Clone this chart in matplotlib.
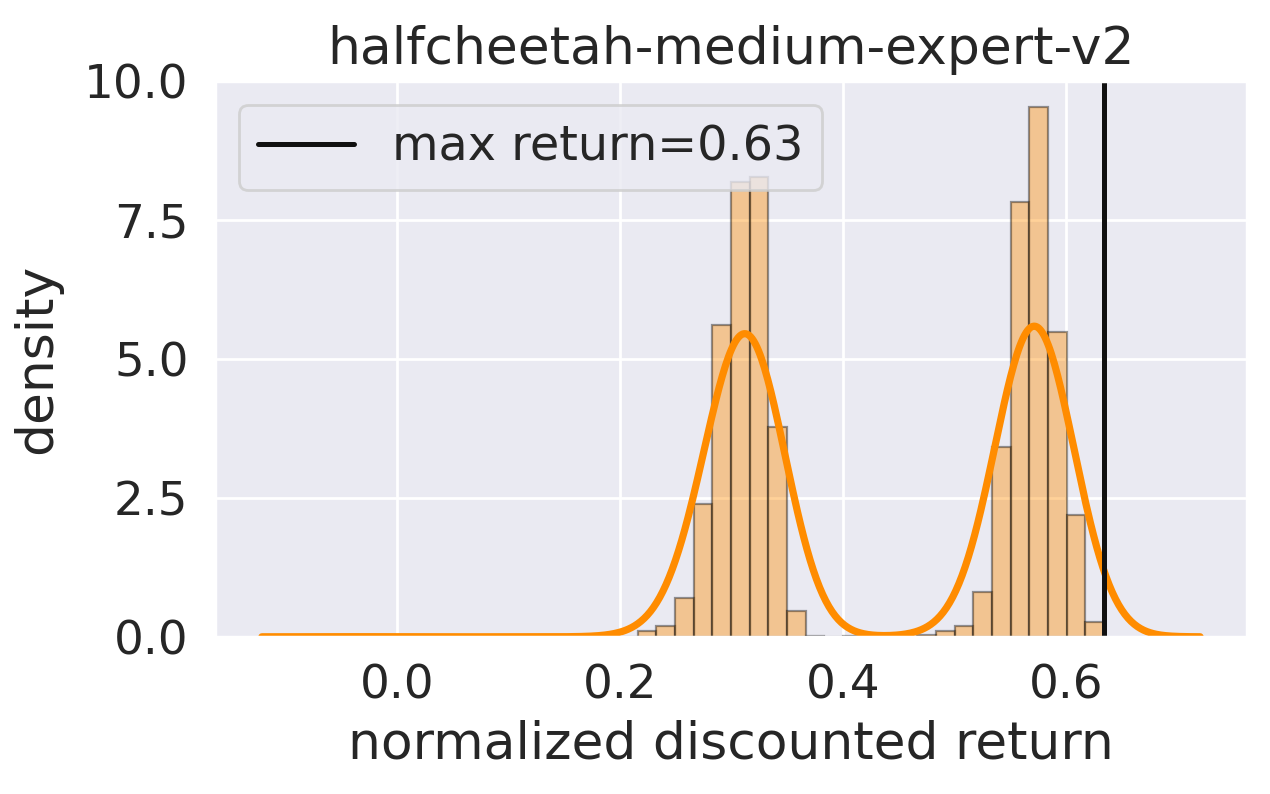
import numpy as np
import matplotlib
matplotlib.use("Agg")
import matplotlib.pyplot as plt
import seaborn as sns

# ---- data ----
title = "halfcheetah-medium-expert-v2"
x_label = "normalized discounted return"
y_label = "density"
max_return = 0.634
data_min = -0.035
n_bins = 40
# density of each histogram bin (40 equal bins from data_min to max_return)
bin_density = [
    0.01, 0, 0, 0, 0, 0, 0, 0, 0, 0,
    0, 0, 0, 0, 0, 0.10, 0.19, 0.70, 2.39, 5.61,
    8.18, 8.27, 3.78, 0.46, 0.02, 0, 0.02, 0, 0, 0,
    0.03, 0.10, 0.19, 0.81, 3.41, 7.83, 9.54, 5.49, 2.19, 0.26,
]
x_ticks = [0.0, 0.2, 0.4, 0.6]
y_ticks = [0.0, 2.5, 5.0, 7.5, 10.0]
kde_bandwidth = 0.0288

sns.set_theme(style="darkgrid", font_scale=1.5)
plt.rcParams["font.family"] = ["DejaVu Sans"]

fig = plt.figure(figsize=(6.35, 3.97), dpi=200)
ax = fig.add_axes([0.1693, 0.198, 0.9819 - 0.1693, 0.898 - 0.198])

edges = np.linspace(data_min, max_return, n_bins + 1)
centers = 0.5 * (edges[:-1] + edges[1:])
widths = np.diff(edges)
heights = np.array(bin_density, dtype=float)

ax.bar(edges[:-1], heights, width=widths, align="edge",
       color="darkorange", alpha=0.4, edgecolor="black", linewidth=0.8)

# KDE of the binned data
weights = heights * widths
weights = weights / weights.sum()
grid = np.linspace(data_min - 3 * kde_bandwidth, max_return + 3 * kde_bandwidth, 600)
dens = np.zeros_like(grid)
for c, w in zip(centers, weights):
    dens += w * np.exp(-0.5 * ((grid - c) / kde_bandwidth) ** 2) / (kde_bandwidth * np.sqrt(2 * np.pi))
ax.plot(grid, dens, color="darkorange", linewidth=2.6)

ax.axvline(max_return, color="#111111", linewidth=1.8,
           label=f"max return={max_return:.2f}")

ax.set_ylim(0, 10)
ax.set_xticks(x_ticks)
ax.set_xticklabels([f"{t:.1f}" for t in x_ticks], fontsize=16.9)
ax.set_yticks(y_ticks)
ax.set_yticklabels([f"{t:.1f}" for t in y_ticks], fontsize=16.9)
ax.set_title(title, fontsize=18.7)
ax.set_xlabel(x_label, fontsize=18.7)
ax.set_ylabel(y_label, fontsize=18.7, labelpad=8)
ax.legend(loc="upper left", fontsize=17.2)

fig.savefig("out.png", dpi=200)
